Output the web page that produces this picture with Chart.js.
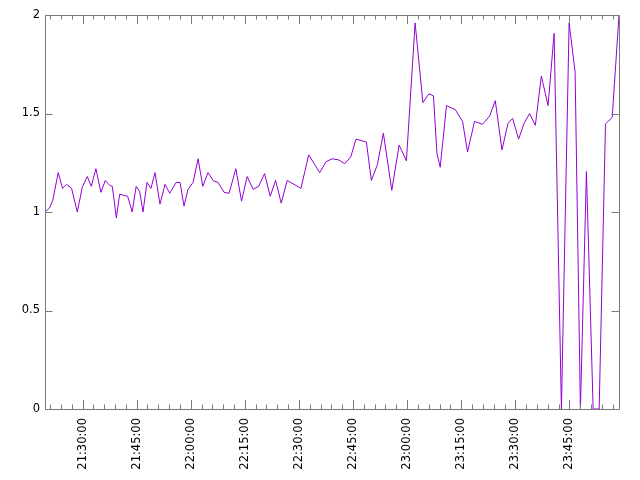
<!DOCTYPE html>
<html>
<head>
<meta charset="utf-8">
<script src="https://cdn.jsdelivr.net/npm/chart.js@4.4.1/dist/chart.umd.min.js"></script>
<style>
  html, body { margin: 0; padding: 0; background: #fff; }
</style>
</head>
<body>
<canvas id="chart" width="640" height="480"></canvas>
<script>
// sample times and values
const times = [
  "21:19:35", "21:20:50", "21:21:45", "21:23:15", "21:24:27", "21:25:33", "21:26:57", "21:28:32",
  "21:29:55", "21:31:18", "21:32:25", "21:33:42", "21:35:05", "21:36:18", "21:37:30", "21:38:15",
  "21:39:22", "21:40:17", "21:42:30", "21:43:45", "21:44:52", "21:45:50", "21:46:45", "21:47:52",
  "21:48:58", "21:50:05", "21:51:28", "21:52:52", "21:54:10", "21:55:55", "21:57:02", "21:58:08",
  "21:59:15", "22:00:38", "22:02:02", "22:03:20", "22:04:48", "22:06:12", "22:07:35", "22:09:15",
  "22:10:38", "22:12:30", "22:14:05", "22:15:38", "22:17:18", "22:18:48", "22:20:28", "22:22:02",
  "22:23:32", "22:25:05", "22:26:45", "22:30:33", "22:32:42", "22:35:45", "22:37:30", "22:39:10",
  "22:40:55", "22:42:42", "22:44:22", "22:45:50", "22:48:42", "22:50:05", "22:51:45", "22:53:25",
  "22:55:45", "22:57:47", "22:59:48", "23:02:13", "23:04:22", "23:06:02", "23:07:18", "23:08:15",
  "23:09:10", "23:10:55", "23:13:20", "23:15:22", "23:16:45", "23:18:42", "23:20:55", "23:22:52",
  "23:24:27", "23:26:18", "23:27:58", "23:29:15", "23:30:55", "23:32:25", "23:33:58", "23:35:33",
  "23:37:13", "23:39:05", "23:40:45", "23:42:47", "23:44:55", "23:46:35", "23:48:03", "23:49:43",
  "23:51:35", "23:53:15", "23:55:00", "23:56:52", "23:58:45"
];
const values = [
  1.00, 1.02, 1.06, 1.20, 1.12, 1.14, 1.12, 1.00,
  1.125, 1.18, 1.13, 1.22, 1.10, 1.16, 1.135, 1.13,
  0.97, 1.09, 1.08, 1.00, 1.13, 1.105, 1.00, 1.15,
  1.12, 1.20, 1.04, 1.14, 1.095, 1.15, 1.15, 1.03,
  1.115, 1.15, 1.27, 1.13, 1.20, 1.16, 1.15, 1.10,
  1.095, 1.22, 1.055, 1.18, 1.115, 1.13, 1.195, 1.08,
  1.16, 1.045, 1.16, 1.12, 1.29, 1.20, 1.255, 1.27,
  1.265, 1.245, 1.28, 1.37, 1.355, 1.16, 1.24, 1.40,
  1.11, 1.34, 1.26, 1.96, 1.555, 1.60, 1.59, 1.30,
  1.227, 1.54, 1.52, 1.46, 1.305, 1.46, 1.445, 1.487,
  1.565, 1.315, 1.45, 1.475, 1.37, 1.45, 1.50, 1.44,
  1.69, 1.54, 1.907, 0, 1.96, 1.71, 0, 1.205,
  0, 0, 1.447, 1.48, 2.0
];
const xTickLabels = ["21:30:00", "21:45:00", "22:00:00", "22:15:00", "22:30:00",
                     "22:45:00", "23:00:00", "23:15:00", "23:30:00", "23:45:00"];
const yTicks = [0, 0.5, 1, 1.5, 2];

function toSec(s) {
  const p = s.split(":").map(Number);
  return p[0] * 3600 + p[1] * 60 + p[2];
}
function fmt(sec) {
  const h = Math.floor(sec / 3600), m = Math.floor(sec / 60) % 60, s = Math.round(sec % 60);
  return [h, m, s].map(v => String(v).padStart(2, "0")).join(":");
}

const points = times.map((t, i) => ({ x: toSec(t), y: values[i] }));
const frameColor = "#7a7a7a";

// gnuplot style border with inward ticks on all four sides
const framePlugin = {
  id: "frame",
  afterDatasetsDraw(chart) {
    const { ctx, chartArea: a, scales } = chart;
    const xs = scales.x, ys = scales.y;
    ctx.save();
    ctx.strokeStyle = frameColor;
    ctx.lineWidth = 1;
    ctx.beginPath();
    // x ticks: majors plus 4 minors between
    const major = xs.ticks.map(t => t.value);
    const step = major[1] - major[0];
    for (let v = major[0] - step; v <= xs.max; v += step / 5) {
      if (v < xs.min) continue;
      const px = Math.round(xs.getPixelForValue(v)) + 0.5;
      const isMajor = Math.abs(((v - major[0]) / step) - Math.round((v - major[0]) / step)) < 1e-6;
      const len = isMajor ? 9 : 4.5;
      ctx.moveTo(px, a.bottom); ctx.lineTo(px, a.bottom - len);
      ctx.moveTo(px, a.top); ctx.lineTo(px, a.top + len);
    }
    ys.ticks.forEach(t => {
      const py = Math.round(ys.getPixelForValue(t.value)) + 0.5;
      ctx.moveTo(a.left, py); ctx.lineTo(a.left + 7.5, py);
      ctx.moveTo(a.right, py); ctx.lineTo(a.right - 7.5, py);
    });
    ctx.stroke();
    ctx.beginPath();
    ctx.rect(Math.round(a.left) + 0.5, Math.round(a.top) + 0.5,
             Math.round(a.right - a.left), Math.round(a.bottom - a.top));
    ctx.stroke();
    ctx.restore();
  }
};

new Chart(document.getElementById("chart"), {
  type: "line",
  data: {
    datasets: [{
      data: points,
      borderColor: "#9400d3",
      borderWidth: 1,
      pointRadius: 0,
      fill: false,
      tension: 0
    }]
  },
  options: {
    responsive: false,
    animation: false,
    layout: { padding: { left: 0, top: 15, right: 21, bottom: 0 } },
    plugins: { legend: { display: false }, tooltip: { enabled: false } },
    scales: {
      x: {
        type: "linear",
        min: points[0].x,
        max: points[points.length - 1].x,
        grid: { display: false, drawTicks: false },
        border: { display: false },
        afterBuildTicks: scale => {
          scale.ticks = xTickLabels.map(l => ({ value: toSec(l) }));
        },
        afterFit: scale => { scale.height = 71; },
        ticks: {
          minRotation: 90,
          maxRotation: 90,
          padding: 9,
          color: "#000",
          font: { family: "DejaVu Sans", size: 11.5 },
          callback: v => fmt(v)
        }
      },
      y: {
        min: 0,
        max: 2,
        grid: { display: false, drawTicks: false },
        border: { display: false },
        afterBuildTicks: scale => {
          scale.ticks = yTicks.map(v => ({ value: v }));
        },
        afterFit: scale => { scale.width = 45; },
        ticks: {
          padding: 5,
          color: "#000",
          font: { family: "DejaVu Sans", size: 11.5 },
          callback: v => String(v)
        }
      }
    }
  },
  plugins: [framePlugin]
});
</script>
</body>
</html>
